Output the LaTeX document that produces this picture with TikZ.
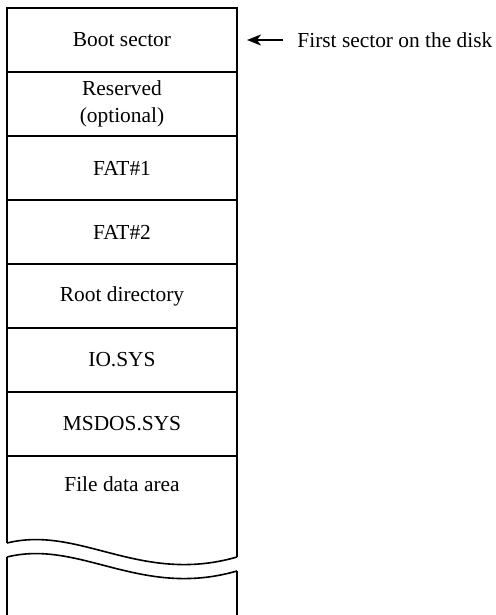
\documentclass[tikz,border=0pt]{standalone}
\usepackage{fontspec}
\setmainfont{Liberation Serif}
\usetikzlibrary{positioning,arrows.meta}

\begin{document}
\begin{tikzpicture}[x=0.5pt,y=-0.5pt,
cell/.style={draw,line width=0.8pt,outer sep=0pt,inner sep=0pt,minimum width=115pt,minimum height=32pt,align=center,font=\fontsize{10.7}{13.5}\selectfont},
lbl/.style={font=\fontsize{10.7}{12.5}\selectfont,inner sep=0pt,draw=none,fill=none},
brk/.style={line width=0.8pt}
]
\useasboundingbox (0,0) rectangle (496,615);
\node[cell] (boot) at (122,40) {Boot sector};
\node[cell,below=0pt of boot] (res) {Reserved\\(optional)};
\node[cell,below=0pt of res] (fat1) {FAT\#1};
\node[cell,below=0pt of fat1] (fat2) {FAT\#2};
\node[cell,below=0pt of fat2] (root) {Root directory};
\node[cell,below=0pt of root] (io) {IO.SYS};
\node[cell,below=0pt of io] (msdos) {MSDOS.SYS};
\node[lbl] (data) at (122,484) {File data area};
\node[lbl,anchor=west] (first) at (297,40) {First sector on the disk};
\draw[line width=0.9pt,-{Stealth[length=7pt,width=5.5pt,inset=2pt]}] ([xshift=-7pt]first.west) -- ([xshift=5pt]boot.east);
% broken lower part
\coordinate (cutL) at (7,543);
\coordinate (cutR) at (237,557);
\coordinate (cutLb) at (7,557);
\coordinate (cutRb) at (237,571);
\coordinate (endL) at (7,616);
\coordinate (endR) at (237,616);
\draw[brk] (cutL) -- (msdos.south west) (msdos.south east) -- (cutR);
\draw[brk] (cutL) .. controls (80,525) and (140,585) .. (cutR);
\draw[brk] (cutLb) .. controls (80,539) and (140,599) .. (cutRb);
\draw[brk] (cutLb) -- (endL) (cutRb) -- (endR);
\end{tikzpicture}
\end{document}
